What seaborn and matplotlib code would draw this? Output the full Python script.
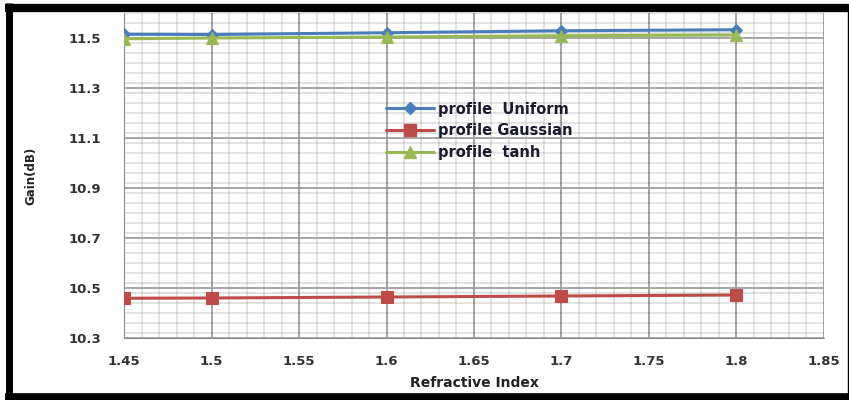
import numpy as np
import pandas as pd
import seaborn as sns
import matplotlib.pyplot as plt
from matplotlib.ticker import MultipleLocator
from matplotlib.lines import Line2D

# Data
refractive_index = [1.45, 1.5, 1.6, 1.7, 1.8]
gain_uniform = [11.515, 11.514, 11.521, 11.529, 11.533]
gain_gaussian = [10.459, 10.460, 10.464, 10.468, 10.472]
gain_tanh = [11.497, 11.500, 11.504, 11.509, 11.512]

series_names = ["profile  Uniform", "profile Gaussian", "profile  tanh"]
colors = ["#4a7ebb", "#be4b48", "#98b954"]
markers = ["D", "s", "^"]
marker_sizes = [6, 9, 8]

x_ticks = [1.45, 1.5, 1.55, 1.6, 1.65, 1.7, 1.75, 1.8, 1.85]
x_tick_labels = ["1.45", "1.5", "1.55", "1.6", "1.65", "1.7", "1.75", "1.8", "1.85"]
y_ticks = [10.3, 10.5, 10.7, 10.9, 11.1, 11.3, 11.5]
y_tick_labels = ["10.3", "10.5", "10.7", "10.9", "11.1", "11.3", "11.5"]

df = pd.DataFrame({
    "x": refractive_index * 3,
    "gain": gain_uniform + gain_gaussian + gain_tanh,
    "profile": [n for n in series_names for _ in refractive_index],
})

sns.set_style("white")
plt.rcParams['font.family'] = ['DejaVu Sans']

fig = plt.figure(figsize=(8.49, 4), dpi=100)
ax = fig.add_axes([124 / 849, 1 - 338 / 400, 700 / 849, 325 / 400])

for name, c, m, ms in zip(series_names, colors, markers, marker_sizes):
    sub = df[df["profile"] == name]
    sns.lineplot(data=sub, x="x", y="gain", color=c, marker=m,
                 markersize=ms, markeredgecolor=c, linewidth=2.2,
                 ax=ax, legend=False, zorder=3)

ax.set_xlim(1.45, 1.85)
ax.set_ylim(10.3, 11.6)
ax.xaxis.set_minor_locator(MultipleLocator(0.01))
ax.yaxis.set_minor_locator(MultipleLocator(0.04))
ax.set_xticks(x_ticks)
ax.set_xticklabels(x_tick_labels)
ax.set_yticks(y_ticks)
ax.set_yticklabels(y_tick_labels)

# minor grid as translucent black so crossings never lighten the major lines
ax.grid(which="minor", color="black", alpha=0.13, linewidth=1.2)
ax.grid(which="major", color="#9e9e9e", linewidth=1.3)
ax.set_axisbelow(True)
for s in ["top", "right"]:
    ax.spines[s].set_visible(False)
ax.spines["left"].set_color("#8c8c8c")
ax.spines["bottom"].set_color("#8c8c8c")
ax.tick_params(which="minor", length=0)
ax.tick_params(axis="x", which="major", length=3, pad=9, color="#8c8c8c",
               width=1.2, labelsize=9.5, labelcolor="#333333")
ax.tick_params(axis="y", which="major", length=7, pad=9.5, color="#8c8c8c",
               width=1.2, labelsize=9.5, labelcolor="#333333")
for lab in ax.get_xticklabels() + ax.get_yticklabels():
    lab.set_fontweight("bold")

ax.set_xlabel("Refractive Index", fontsize=10, fontweight="bold",
              color="#222222", labelpad=6)
ax.set_ylabel("Gain(dB)", fontsize=8.5, fontweight="bold", color="#222222",
              labelpad=22)

handles = [Line2D([], [], color=c, marker=m, markersize=ms, linewidth=2.2)
           for c, m, ms in zip(colors, markers, marker_sizes)]
leg = ax.legend(handles, series_names, loc="upper left",
                bbox_to_anchor=(0.355, 0.768), frameon=False,
                handlelength=3.3, labelspacing=0.45, handletextpad=0.3,
                prop={"weight": "bold", "size": 10.5})
for t in leg.get_texts():
    t.set_color("#1a1a2e")

# black screenshot frame
fig.add_artist(Line2D([9 / 849, 9 / 849], [0, 1 - 3 / 400], transform=fig.transFigure,
                      color="black", linewidth=5, solid_capstyle="butt"))
fig.add_artist(Line2D([5 / 849, 1], [1 - 7.5 / 400, 1 - 7.5 / 400], transform=fig.transFigure,
                      color="black", linewidth=6, solid_capstyle="butt"))
fig.add_artist(Line2D([5 / 849, 1], [3.5 / 400, 3.5 / 400], transform=fig.transFigure,
                      color="black", linewidth=5.5, solid_capstyle="butt"))
fig.add_artist(Line2D([847.5 / 849, 847.5 / 849], [0, 1 - 7 / 400], transform=fig.transFigure,
                      color="black", linewidth=1, solid_capstyle="butt"))

fig.savefig("out.png", dpi=100)
